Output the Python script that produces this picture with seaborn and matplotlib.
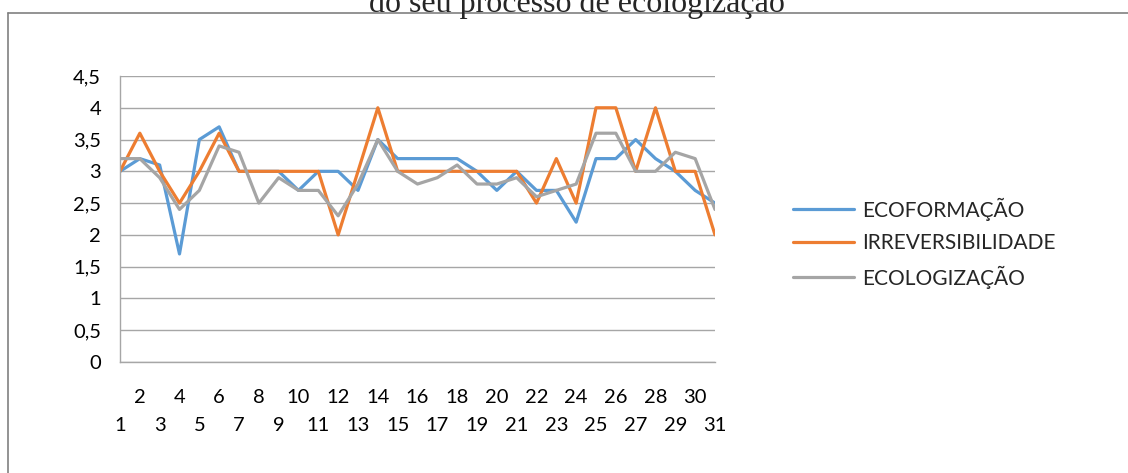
import pandas as pd
import seaborn as sns
import matplotlib.pyplot as plt
from matplotlib.lines import Line2D

# data
pontos = list(range(1, 32))
ecoformacao = [3.0, 3.2, 3.1, 1.7, 3.5, 3.7, 3.0, 3.0, 3.0, 2.7,
               3.0, 3.0, 2.7, 3.5, 3.2, 3.2, 3.2, 3.2, 3.0, 2.7,
               3.0, 2.7, 2.7, 2.2, 3.2, 3.2, 3.5, 3.2, 3.0, 2.7, 2.5]
irreversibilidade = [3.0, 3.6, 3.0, 2.5, 3.0, 3.6, 3.0, 3.0, 3.0, 3.0,
                     3.0, 2.0, 3.0, 4.0, 3.0, 3.0, 3.0, 3.0, 3.0, 3.0,
                     3.0, 2.5, 3.2, 2.5, 4.0, 4.0, 3.0, 4.0, 3.0, 3.0, 2.0]
ecologizacao = [3.2, 3.2, 2.9, 2.4, 2.7, 3.4, 3.3, 2.5, 2.9, 2.7,
                2.7, 2.3, 2.8, 3.5, 3.0, 2.8, 2.9, 3.1, 2.8, 2.8,
                2.9, 2.6, 2.7, 2.8, 3.6, 3.6, 3.0, 3.0, 3.3, 3.2, 2.4]
series_names = ["ECOFORMAÇÃO", "IRREVERSIBILIDADE", "ECOLOGIZAÇÃO"]
colors = ["#5b9bd5", "#ed7d31", "#a5a5a5"]
title = "do seu processo de ecologização"
yticks = [0, 0.5, 1, 1.5, 2, 2.5, 3, 3.5, 4, 4.5]

df = pd.DataFrame({"ponto": pontos,
                   series_names[0]: ecoformacao,
                   series_names[1]: irreversibilidade,
                   series_names[2]: ecologizacao})
long_df = df.melt(id_vars="ponto", var_name="serie", value_name="valor")

sns.set_style("white")
plt.rcParams["font.family"] = ["Lato", "DejaVu Sans"]

W, H = 1128, 473
fig = plt.figure(figsize=(W / 100, H / 100), dpi=100)
ax = fig.add_axes([120 / W, 1 - 362 / H, 595 / W, 286 / H])

sns.lineplot(data=long_df, x="ponto", y="valor", hue="serie",
             hue_order=series_names, palette=colors, linewidth=2.3, ax=ax)

grid_c = "#a6a6a6"
ax.set_xlim(1, 31)
ax.set_ylim(0, 4.5)
ax.set_yticks(yticks)
ax.set_yticklabels([f"{v:g}".replace(".", ",") for v in yticks])

# staggered category labels: odd ones on the lower row, even ones on top
odd = [p for p in pontos if p % 2 == 1]
even = [p for p in pontos if p % 2 == 0]
ax.set_xticks(odd)
ax.set_xticklabels([str(p) for p in odd])
ax.set_xticks(even, minor=True)
ax.set_xticklabels([str(p) for p in even], minor=True)

ax.yaxis.grid(True, color=grid_c, linewidth=1)
ax.xaxis.grid(False)
ax.tick_params(axis="both", which="both", direction="out", length=7.5,
               width=1, color=grid_c, labelsize=14.5, labelcolor="black")
ax.tick_params(axis="y", pad=6)
ax.tick_params(axis="x", which="minor", pad=12)
ax.tick_params(axis="x", which="major", pad=32)
for side in ["top", "right"]:
    ax.spines[side].set_visible(False)
for side in ["left", "bottom"]:
    ax.spines[side].set_color(grid_c)
    ax.spines[side].set_linewidth(1)
ax.set_xlabel("")
ax.set_ylabel("")

handles, labels = ax.get_legend_handles_labels()
ax.legend(handles, labels, loc="center left",
          bbox_to_anchor=(785 / W, 1 - 243 / H), bbox_transform=fig.transFigure,
          frameon=False, fontsize=15, handlelength=2.9, handletextpad=0.4,
          labelspacing=0.6, borderaxespad=0)

# outer chart border (top and left edges visible)
fig.add_artist(Line2D([8 / W, 8 / W], [0, 1 - 13 / H], color="#808080",
                      linewidth=1.2, transform=fig.transFigure))
fig.add_artist(Line2D([8 / W, 1], [1 - 13 / H, 1 - 13 / H], color="#808080",
                      linewidth=1.2, transform=fig.transFigure))

fig.text(577 / W, 1 - 12 / H, title, ha="center", va="baseline",
         fontsize=23, family="Liberation Serif")

fig.savefig("out.png", dpi=100)
